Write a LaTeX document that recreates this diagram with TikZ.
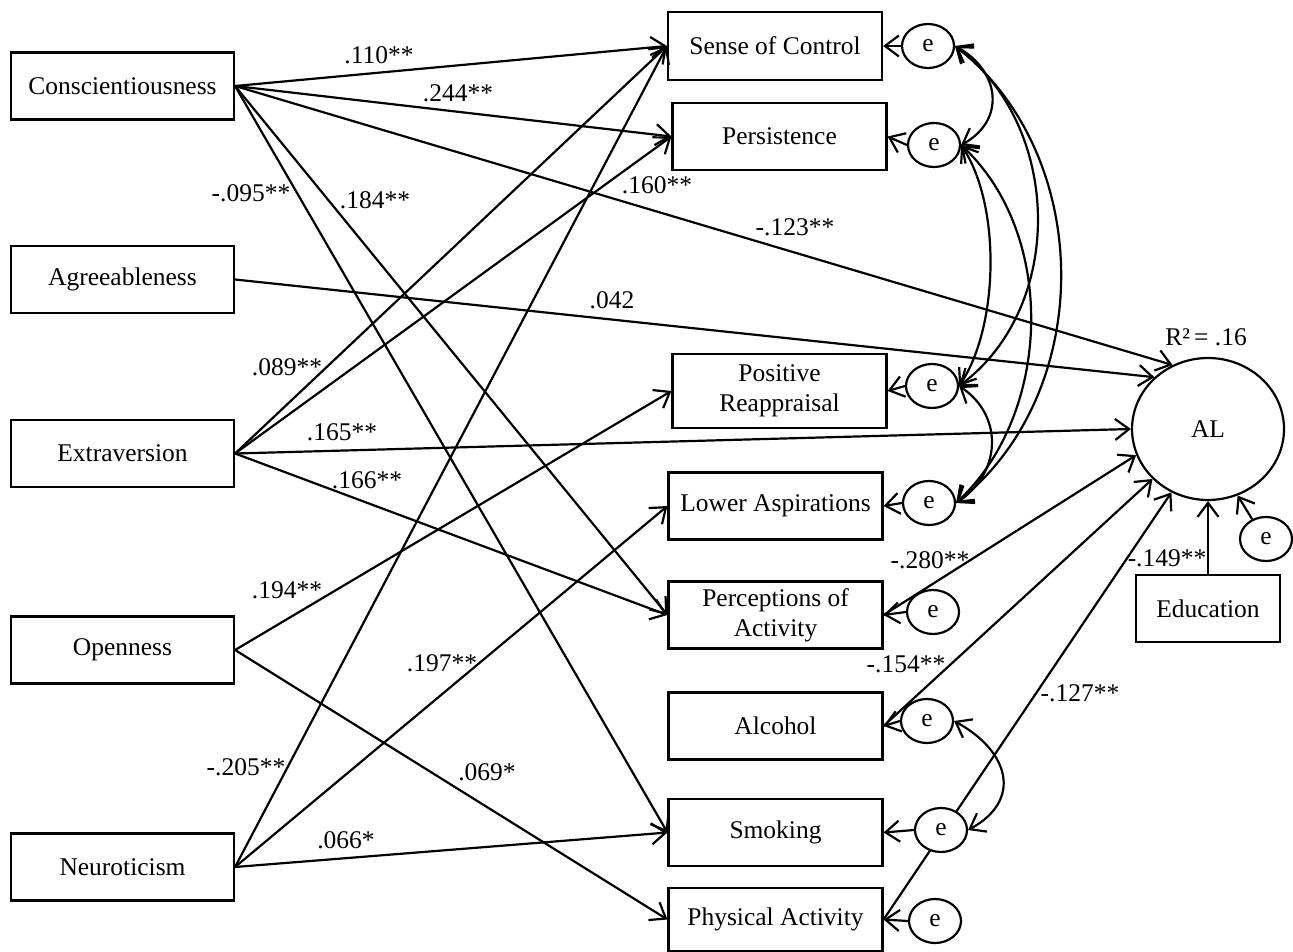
\documentclass[tikz,border=0pt]{standalone}
\usepackage{fontspec}
\setmainfont{Liberation Serif}
\usetikzlibrary{arrows.meta,shapes.geometric}

\begin{document}
\begin{tikzpicture}[x=0.02cm, y=-0.02cm, line width=1.25pt,
      every node/.style = {font=\fontsize{14.5}{17}\selectfont},
      box/.style = {draw, rectangle, align=center, inner sep=0pt,
        minimum width=4.28cm, minimum height=1.34cm},
      trait/.style = {box, minimum width=4.46cm},
      errnode/.style = {draw, ellipse, fill=white, inner sep=0pt,
        minimum width=1.04cm, minimum height=0.88cm},
      effect/.style = {-{Straight Barb[length=2.8mm,width=4.2mm]}},
      covar/.style = {{Straight Barb[length=2.8mm,width=4.2mm]}-{Straight Barb[length=2.8mm,width=4.2mm]}},
      coef/.style = {inner sep=1pt}]
    \useasboundingbox (0,0) rectangle (1293,952);

    \node[trait] (cons) at (122.5,86) {Conscientiousness};
    \node[trait] (agree) at (122.5,279.5) {Agreeableness};
    \node[trait] (extra) at (122.5,453.5) {Extraversion};
    \node[trait] (open) at (122.5,650) {Openness};
    \node[trait] (neuro) at (122.5,867) {Neuroticism};

    \node[box, minimum height=1.36cm] (control) at (775,46) {Sense of Control};
    \node[box] (persist) at (779.5,136.5) {Persistence};
    \node[box, minimum height=1.48cm] (reapp) at (779.5,391) {Positive\\Reappraisal};
    \node[box] (aspire) at (775.5,506) {Lower Aspirations};
    \node[box] (percept) at (775.5,615) {Perceptions of\\Activity};
    \node[box] (alcohol) at (775.5,726) {Alcohol};
    \node[box] (smoking) at (775.5,832.5) {Smoking};
    \node[box, minimum height=1.26cm] (physical) at (775.5,919.5) {Physical Activity};

    \node[draw, ellipse, minimum width=3.04cm, minimum height=2.84cm] (AL) at (1208,429) {AL};
    \node (rsq) at (1206,337) {R²\,= .16};
    \node[box, minimum width=2.88cm] (edu) at (1208,608.5) {Education};

    \draw[effect] (cons.east) -- (control.west);
    \draw[effect] (cons.east) -- (persist.west);
    \draw[effect] (cons.east) -- (AL.119);
    \draw[effect] (cons.east) -- (percept.west);
    \draw[effect] (cons.east) -- (smoking.west);
    \draw[effect] (agree.east) -- (AL.136);
    \draw[effect] (extra.east) -- (control.west);
    \draw[effect] (extra.east) -- (persist.west);
    \draw[effect] (extra.east) -- (AL.180);
    \draw[effect] (extra.east) -- (percept.west);
    \draw[effect] (open.east) -- (reapp.west);
    \draw[effect] (open.east) -- (physical.west);
    \draw[effect] (neuro.east) -- (control.west);
    \draw[effect] (neuro.east) -- (aspire.west);
    \draw[effect] (neuro.east) -- (smoking.west);
    \draw[effect] (percept.east) -- (AL.200);
    \draw[effect] (alcohol.east) -- (AL.222);
    \draw[effect] (physical.east) -- (AL.240);
    \draw[effect] (edu.north) -- (AL.south);

    \node[errnode] (eControl) at (928,46) {e};
    \node[errnode] (ePersist) at (934,145) {e};
    \node[errnode] (eReapp) at (932,386) {e};
    \node[errnode] (eAspire) at (929,503) {e};
    \node[errnode] (ePercept) at (933,612) {e};
    \node[errnode] (eAlcohol) at (927,721) {e};
    \node[errnode] (eSmoking) at (941,830) {e};
    \node[errnode] (ePhysical) at (935,921) {e};
    \node[errnode] (eAL) at (1266,539) {e};

    \draw[effect] (eControl.west) -- (control.east);
    \draw[effect] (ePersist.west) -- (persist.east);
    \draw[effect] (eReapp.west) -- (reapp.east);
    \draw[effect] (eAspire.west) -- (aspire.east);
    \draw[effect] (ePercept.west) -- (percept.east);
    \draw[effect] (eAlcohol.west) -- (alcohol.east);
    \draw[effect] (eSmoking.west) -- (smoking.east);
    \draw[effect] (ePhysical.west) -- (physical.east);
    \draw[effect] (eAL.125) -- (AL.294);

    \draw[covar] (eControl.east) .. controls +(45,25) and +(45,-25) .. (ePersist.east);
    \draw[covar] (eControl.east) .. controls +(107,80) and +(107,-80) .. (eReapp.east);
    \draw[covar] (eControl.east) .. controls +(140,110) and +(140,-110) .. (eAspire.east);
    \draw[covar] (ePersist.east) .. controls +(40,60) and +(40,-60) .. (eReapp.east);
    \draw[covar] (ePersist.east) .. controls +(96,90) and +(96,-90) .. (eAspire.east);
    \draw[covar] (eReapp.east) .. controls +(45,30) and +(45,-30) .. (eAspire.east);
    \draw[covar] (eAlcohol.east) .. controls +(55,30) and +(55,-30) .. (eSmoking.east);

    \node[coef] (kControl) at (379,55) {.110**};
    \node[coef] (kPersist) at (458,93) {.244**};
    \node[coef] (kSmoking) at (251,193) {-.095**};
    \node[coef] (kPercept) at (375,200) {.184**};
    \node[coef] (kConsAL) at (795,227) {-.123**};
    \node[coef] (kAgreeAL) at (612,300) {.042};
    \node[coef] (kExtraCtl) at (287,367) {.089**};
    \node[coef] (kExtraPer) at (657,185) {.160**};
    \node[coef] (kExtraAL) at (342,432) {.165**};
    \node[coef] (kExtraAct) at (367,480) {.166**};
    \node[coef] (kOpenRea) at (287,590) {.194**};
    \node[coef] (kOpenPhy) at (487,772) {.069*};
    \node[coef] (kNeuroCtl) at (246,767) {-.205**};
    \node[coef] (kNeuroAsp) at (442,663) {.197**};
    \node[coef] (kNeuroSmk) at (346,840) {.066*};
    \node[coef] (kActAL) at (930,560) {-.280**};
    \node[coef] (kAlcAL) at (906,664) {-.154**};
    \node[coef] (kPhyAL) at (1080,693) {-.127**};
    \node[coef] (kEduAL) at (1167,558) {-.149**};
  \end{tikzpicture}
\end{document}
